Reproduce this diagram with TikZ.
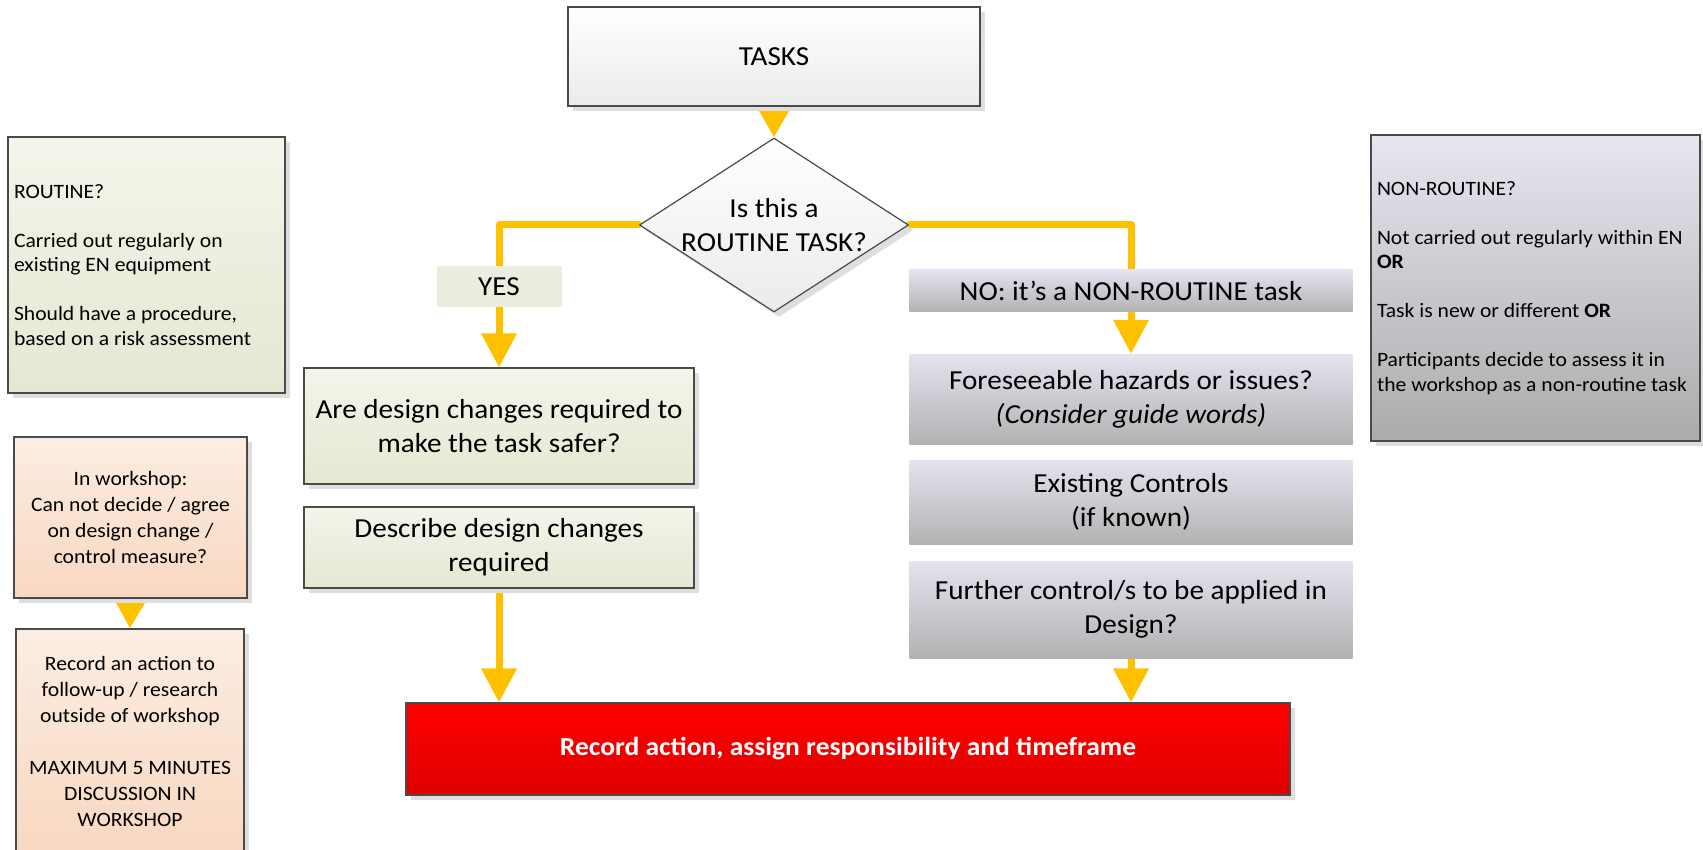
\documentclass[tikz,border=0pt]{standalone}
\usepackage{fontspec}
\setmainfont{Carlito}[FakeStretch=1.06]
\usetikzlibrary{arrows.meta,shapes.geometric,shadows}
\pgfdeclarelayer{bg}
\pgfsetlayers{bg,main}
\definecolor{flowy}{HTML}{FFC000}
\definecolor{tbot}{HTML}{EBEBEB}
\definecolor{grtop}{HTML}{F3F5EA}
\definecolor{grbot}{HTML}{E3E8D2}
\definecolor{yesfill}{HTML}{EBEEDE}
\definecolor{gytop}{HTML}{E6E2EF}
\definecolor{gybot}{HTML}{B2B2B2}
\definecolor{nrtop}{HTML}{E9E5F1}
\definecolor{nrbot}{HTML}{ABABAB}
\definecolor{ortop}{HTML}{FCEDE2}
\definecolor{orbot}{HTML}{F8D8C1}
\definecolor{rdtop}{HTML}{FF0000}
\definecolor{rdbot}{HTML}{DE0000}
\definecolor{edge}{HTML}{4A4A4A}
\begin{document}
\begin{tikzpicture}[x=1pt,y=-1pt,
  box/.style={rectangle, inner sep=0pt, align=center},
  bordered/.style={draw=edge, line width=1.2pt},
  shad/.style={drop shadow={shadow xshift=5pt, shadow yshift=-5pt, fill=black!13, opacity=1}},
  smalltxt/.style={font=\fontsize{20.4}{26}\selectfont},
  notetxt/.style={font=\fontsize{20.4}{24.5}\selectfont},
  bigtxt/.style={font=\fontsize{27.5}{34}\selectfont},
  greenbox/.style={box, bordered, shad, top color=grtop, bottom color=grbot, minimum width=390pt, bigtxt},
  graybox/.style={box, top color=gytop, bottom color=gybot, minimum width=443pt, bigtxt},
  orangebox/.style={box, bordered, shad, top color=ortop, bottom color=orbot, smalltxt},
  notebox/.style={box, bordered, shad, notetxt},
  flow/.style={draw=flowy, line width=7pt, line cap=round, line join=round},
  tip/.style={-{Triangle[width=34pt,length=34pt]}},
  shorttip/.style={-{Triangle[width=33pt,length=31pt]}}
]
\useasboundingbox (0,0) rectangle (1703,850);

% top
\node[box, bordered, shad, top color=white, bottom color=tbot,
      minimum width=412pt, minimum height=99pt, bigtxt] (tasks) at (774,56.5) {TASKS};
\node[diamond, bordered, shad, top color=white, bottom color=tbot,
      minimum width=269pt, minimum height=174pt, inner sep=0pt] (dec) at (774,225) {};
\node[box, bigtxt] (dectxt) at (dec) {Is this a\\ROUTINE TASK?};

% left branch
\node[box, fill=yesfill, minimum width=125pt, minimum height=41pt, bigtxt] (yes) at (499,286.5) {YES};
\node[greenbox, minimum height=116pt] (q1) at (499,426) {Are design changes required to\\make the task safer?};
\node[greenbox, minimum height=81pt] (q2) at (499,547.5) {Describe design changes\\required};

% right branch
\node[graybox, minimum height=42pt] (no) at (1131,291) {NO: it’s a NON-ROUTINE task};
\node[graybox, minimum height=90pt] (fore) at (1131,399) {Foreseeable hazards or issues?\\\textit{(Consider guide words)}};
\node[graybox, minimum height=84pt] (exist) at (1131,502) {Existing Controls\\(if known)};
\node[graybox, minimum height=97pt] (further) at (1131,609.5) {Further control/s to be applied in\\Design?};

% result
\node[box, bordered, shad, top color=rdtop, bottom color=rdbot,
      minimum width=884pt, minimum height=92pt, text=white,
      font=\fontsize{26}{32}\selectfont\bfseries] (red) at (848,749) {Record action, assign responsibility and timeframe};

% side notes
\node[notebox, top color=grtop, bottom color=grbot,
      minimum width=277pt, minimum height=256pt] (routine) at (146.5,265)
 {\makebox[277pt][l]{\hspace*{6pt}\begin{minipage}{268pt}\raggedright
 ROUTINE?\\[24.5pt]Carried out regularly on\\existing EN equipment\\[24.5pt]Should have a procedure,\\based on a risk assessment
 \end{minipage}}};
\node[notebox, top color=nrtop, bottom color=nrbot,
      minimum width=329pt, minimum height=306pt] (nonroutine) at (1535.5,288)
 {\makebox[329pt][l]{\hspace*{6pt}\begin{minipage}{323pt}\raggedright
 NON-ROUTINE?\\[24.5pt]Not carried out regularly within EN\\\textbf{OR}\\[24.5pt]Task is new or different \textbf{OR}\\[24.5pt]Participants decide to assess it in\\the workshop as a non-routine task
 \end{minipage}}};
\node[orangebox, minimum width=233pt, minimum height=161pt] (ws) at (130.5,517.5)
 {In workshop:\\Can not decide / agree\\on design change /\\control measure?};
\node[orangebox, minimum width=228pt, minimum height=224pt] (rec) at (130,741)
 {Record an action to\\follow-up / research\\outside of workshop\\[26pt]MAXIMUM 5 MINUTES\\DISCUSSION IN\\WORKSHOP};

% connectors
\begin{pgfonlayer}{bg}
\draw[flow, shorttip] (tasks.south) -- (dec.north);
\draw[flow, tip] (dec.west) -| (q1.north);
\draw[flow, tip] (dec.east) -| (fore.north);
\draw[flow, tip] (q2.south) -- (q2.south |- red.north);
\draw[flow, tip] (further.south) -- (further.south |- red.north);
\draw[flow, shorttip] (ws.south) -- (rec.north);
\end{pgfonlayer}
\end{tikzpicture}
\end{document}
